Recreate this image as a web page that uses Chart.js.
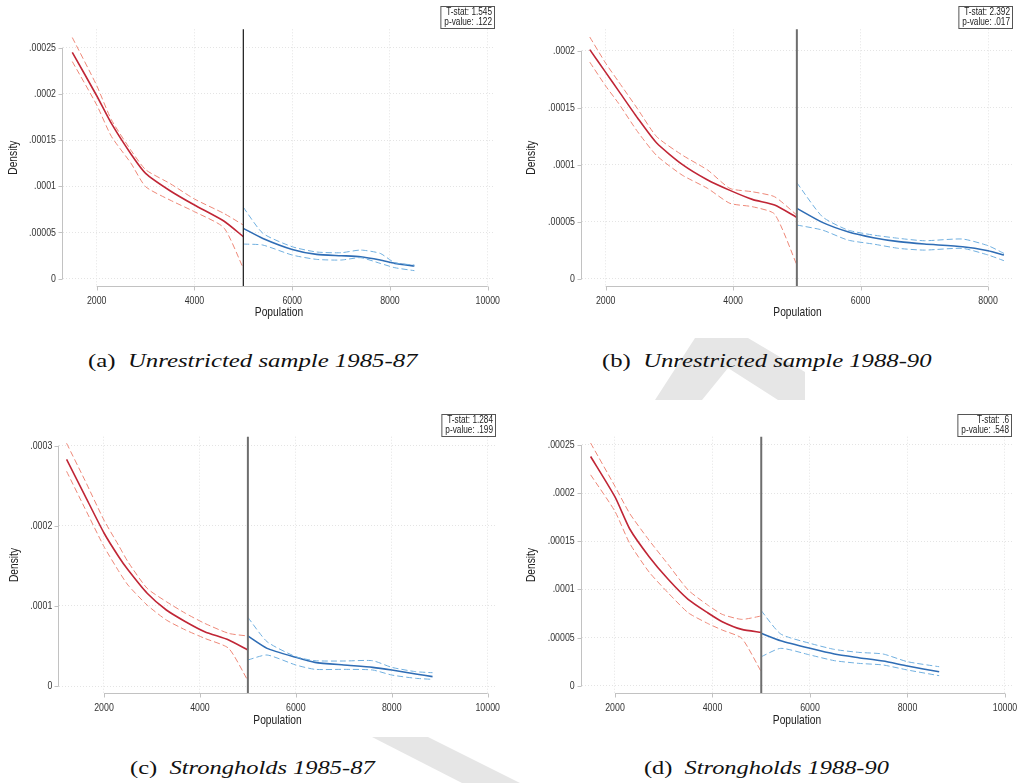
<!DOCTYPE html>
<html>
<head>
<meta charset="utf-8">
<script src="https://cdn.jsdelivr.net/npm/chart.js"></script>
<style>
  body { margin: 0; background: #fff; width: 1019px; height: 783px; overflow: hidden; position: relative; }
  .panel { position: absolute; }
  .cap { position: absolute; font-family: "Liberation Serif", serif; font-size: 19px; line-height: 19px; white-space: nowrap; color: #111; transform-origin: 0 0; }
  .cap i { font-style: italic; }
  #wm { position: absolute; left: 0; top: 0; }
</style>
</head>
<body>
<svg id="wm" width="1019" height="783">
  <polygon points="695,338 748,338 805,372 805,400 778,400 728,368 702,400 655,400" fill="#e6e6e6"/>
  <polygon points="372,737 428,737 520,783 462,783" fill="#e6e6e6"/>
</svg>
<div class="panel" style="left:0;top:0"><canvas id="cA" width="505" height="330"></canvas></div>
<div class="panel" style="left:515px;top:0"><canvas id="cB" width="504" height="330"></canvas></div>
<div class="panel" style="left:0;top:400px"><canvas id="cC" width="505" height="340"></canvas></div>
<div class="panel" style="left:515px;top:400px"><canvas id="cD" width="504" height="340"></canvas></div>
<div class="cap" id="capA">(a)&nbsp; <i>Unrestricted sample 1985-87</i></div>
<div class="cap" id="capB">(b)&nbsp; <i>Unrestricted sample 1988-90</i></div>
<div class="cap" id="capC">(c)&nbsp; <i>Strongholds 1985-87</i></div>
<div class="cap" id="capD">(d)&nbsp; <i>Strongholds 1988-90</i></div>
<script>
// --- data ---
const cutoff = 5000;
const xTicksFull = [2000, 4000, 6000, 8000, 10000];
const xTicksShort = [2000, 4000, 6000, 8000];
const yTicks25 = [0, 0.00005, 0.0001, 0.00015, 0.0002, 0.00025];
const yLabels25 = ['0', '.00005', '.0001', '.00015', '.0002', '.00025'];
const yTicks20 = [0, 0.00005, 0.0001, 0.00015, 0.0002];
const yLabels20 = ['0', '.00005', '.0001', '.00015', '.0002'];
const yTicks30 = [0, 0.0001, 0.0002, 0.0003];
const yLabels30 = ['0', '.0001', '.0002', '.0003'];
const tStats = ['1.545', '2.392', '1.284', '.6'];
const pValues = ['.122', '.017', '.199', '.548'];

// (a) unrestricted 1985-87
const aRedX = [1500, 2000, 2300, 2700, 3000, 3500, 4000, 4600, 5000];
const aRedMid = [0.000245, 0.000198, 0.000168, 0.000135, 0.000114, 0.0000952, 0.0000797, 0.0000624, 0.0000455];
const aRedHi = [0.000261, 0.000209, 0.000172, 0.000139, 0.000118, 0.000103, 0.0000862, 0.0000707, 0.0000581];
const aRedLo = [0.000235, 0.000188, 0.000154, 0.000125, 0.0000996, 0.0000851, 0.0000725, 0.0000552, 0.0000112];
const aBlueX = [5000, 5400, 6000, 6500, 7000, 7400, 7800, 8100, 8500];
const aBlueMid = [0.0000545, 0.0000436, 0.0000317, 0.0000263, 0.0000249, 0.0000238, 0.0000202, 0.0000166, 0.0000137];
const aBlueHi = [0.0000772, 0.0000491, 0.0000346, 0.0000289, 0.0000281, 0.000031, 0.0000274, 0.0000173, 0.0000148];
const aBlueLo = [0.0000375, 0.0000364, 0.0000256, 0.0000209, 0.0000202, 0.0000227, 0.0000166, 0.0000119, 0.0000087];

// (b) unrestricted 1988-90
const bRedX = [1750, 2000, 2200, 2500, 2800, 3200, 3600, 3950, 4300, 4650, 5000];
const bRedMid = [0.000201, 0.000181, 0.000165, 0.000141, 0.000119, 0.0001003, 0.0000866, 0.0000775, 0.0000696, 0.0000646, 0.0000538];
const bRedHi = [0.000212, 0.000189, 0.000173, 0.000149, 0.0001246, 0.0001085, 0.0000953, 0.0000792, 0.0000763, 0.0000719, 0.0000558];
const bRedLo = [0.00019, 0.000169, 0.000154, 0.000129, 0.000108, 0.0000909, 0.0000792, 0.0000661, 0.0000632, 0.0000567, 0.000012];
const bBlueX = [5000, 5400, 5800, 6200, 6600, 7000, 7600, 8000, 8250];
const bBlueMid = [0.0000617, 0.0000494, 0.0000412, 0.000036, 0.0000325, 0.0000304, 0.0000281, 0.0000246, 0.0000208];
const bBlueHi = [0.0000842, 0.0000544, 0.0000427, 0.0000383, 0.0000354, 0.0000333, 0.0000348, 0.000029, 0.0000222];
const bBlueLo = [0.0000471, 0.0000427, 0.0000339, 0.0000304, 0.0000266, 0.0000251, 0.0000266, 0.0000208, 0.0000158];

// (c) strongholds 1985-87
const cRedX = [1220, 1600, 2000, 2300, 2500, 2900, 3300, 3700, 4100, 4600, 5000];
const cRedMid = [0.000283, 0.000238, 0.000191, 0.000162, 0.000145, 0.0001157, 0.0000949, 0.0000803, 0.0000678, 0.0000574, 0.0000449];
const cRedHi = [0.000303, 0.000257, 0.000207, 0.000176, 0.000155, 0.0001219, 0.0001053, 0.0000907, 0.0000782, 0.0000657, 0.0000624];
const cRedLo = [0.000268, 0.000222, 0.000174, 0.000144, 0.000126, 0.000101, 0.0000824, 0.0000699, 0.0000595, 0.000047, 0.0000067];
const cBlueX = [5000, 5400, 6000, 6400, 7000, 7600, 8000, 8500, 8850];
const cBlueMid = [0.0000624, 0.000047, 0.0000358, 0.0000295, 0.0000262, 0.0000233, 0.00002, 0.000015, 0.0000117];
const cBlueHi = [0.0000857, 0.0000553, 0.0000366, 0.0000316, 0.0000312, 0.0000316, 0.0000233, 0.0000179, 0.0000166];
const cBlueLo = [0.0000325, 0.0000387, 0.0000262, 0.0000208, 0.0000208, 0.00002, 0.0000137, 0.0000096, 0.0000083];

// (d) strongholds 1988-90
const dRedX = [1500, 2000, 2300, 2700, 3100, 3500, 3900, 4200, 4600, 5000];
const dRedMid = [0.000238, 0.000196, 0.000163, 0.000134, 0.00011, 0.0000897, 0.0000758, 0.0000665, 0.0000585, 0.0000554];
const dRedHi = [0.000252, 0.000207, 0.000179, 0.000151, 0.0001253, 0.0000994, 0.0000838, 0.0000741, 0.0000689, 0.0000724];
const dRedLo = [0.000219, 0.000181, 0.000148, 0.000118, 0.0000959, 0.0000758, 0.0000647, 0.0000578, 0.0000492, 0.0000145];
const dBlueX = [5000, 5400, 6000, 6500, 7000, 7500, 8000, 8650];
const dBlueMid = [0.0000544, 0.0000467, 0.0000388, 0.0000329, 0.0000291, 0.0000256, 0.0000204, 0.0000145];
const dBlueHi = [0.0000779, 0.0000537, 0.000044, 0.0000377, 0.0000346, 0.0000329, 0.0000249, 0.0000197];
const dBlueLo = [0.0000301, 0.0000388, 0.0000319, 0.000026, 0.0000232, 0.0000215, 0.0000163, 0.0000104];

// --- styling ---
const sans = '"Liberation Sans", Arial, sans-serif';
const narrowFactor = 0.8;   // Arial squeezed to about Arial Narrow width
const redSolid = '#c02636', redDash = '#ee8878';
const blueSolid = '#2f6db5', blueDash = '#71b0e0';

const pts = (xs, ys) => xs.map((x, i) => ({ x: x, y: ys[i] }));

// every fillText on the chart canvas is squeezed horizontally around its anchor
const narrowText = {
  id: 'narrowText',
  beforeInit(chart) {
    const ctx = chart.ctx;
    const orig = ctx.fillText;
    ctx.fillText = function (t, x, y, maxW) {
      this.save();
      this.translate(x, y);
      this.scale(narrowFactor, 1);
      orig.call(this, t, 0, 0);
      this.restore();
    };
  }
};

// axis lines, tick marks, cutoff line and the T-stat box, drawn through the chart's scales
const stataPlugin = {
  id: 'stata',
  afterDatasetsDraw(chart, args, o) {
    const { ctx, chartArea: a, scales: { x } } = chart;
    const px = x.getPixelForValue(o.cutoff);
    ctx.save();
    ctx.strokeStyle = o.cutColor;
    ctx.lineWidth = o.cutWidth;
    ctx.beginPath();
    ctx.moveTo(px, a.top);
    ctx.lineTo(px, a.bottom);
    ctx.stroke();
    ctx.restore();
  },
  afterDraw(chart, args, o) {
    const { ctx, chartArea: a, scales: { x, y } } = chart;
    ctx.save();
    ctx.strokeStyle = '#c2c2c2';
    ctx.lineWidth = 1;
    ctx.beginPath();
    const yl = Math.round(a.left) - 0.5;
    ctx.moveTo(yl, y.getPixelForValue(o.yTicks[0]) + 0.5);
    ctx.lineTo(yl, y.getPixelForValue(o.yTicks[o.yTicks.length - 1]));
    o.yTicks.forEach(v => {
      const p = Math.round(y.getPixelForValue(v)) + 0.5;
      ctx.moveTo(yl - 4, p); ctx.lineTo(yl, p);
    });
    const xb = Math.round(a.bottom) + 0.5;
    ctx.moveTo(x.getPixelForValue(o.xTicks[0]), xb);
    ctx.lineTo(x.getPixelForValue(o.xTicks[o.xTicks.length - 1]), xb);
    o.xTicks.forEach(v => {
      const p = Math.round(x.getPixelForValue(v)) + 0.5;
      ctx.moveTo(p, xb); ctx.lineTo(p, xb + 4);
    });
    ctx.stroke();

    // T-stat box in the upper right corner, just above the plot region
    ctx.font = '10.3px ' + sans;
    const l1 = 'T-stat: ' + o.tStat, l2 = 'p-value: ' + o.pValue;
    const w = Math.max(ctx.measureText(l1).width, ctx.measureText(l2).width) * narrowFactor + 6;
    const right = Math.round(a.right) - 0.5, bottom = Math.round(a.top) - 0.5;
    const h = 22;
    ctx.strokeStyle = '#555';
    ctx.strokeRect(right - w, bottom - h, w, h);
    ctx.fillStyle = '#222';
    ctx.textAlign = 'right';
    ctx.textBaseline = 'middle';
    ctx.fillText(l1, right - 2.5, bottom - h + 6);
    ctx.fillText(l2, right - 2.5, bottom - h + 15.5);
    ctx.restore();
  }
};

function makePanel(cfg) {
  const datasets = [
    { data: pts(cfg.redX, cfg.redHi), borderColor: redDash, borderWidth: 1, borderDash: [6, 3] },
    { data: pts(cfg.redX, cfg.redLo), borderColor: redDash, borderWidth: 1, borderDash: [6, 3] },
    { data: pts(cfg.redX, cfg.redMid), borderColor: redSolid, borderWidth: 1.6 },
    { data: pts(cfg.blueX, cfg.blueHi), borderColor: blueDash, borderWidth: 1, borderDash: [6, 3] },
    { data: pts(cfg.blueX, cfg.blueLo), borderColor: blueDash, borderWidth: 1, borderDash: [6, 3] },
    { data: pts(cfg.blueX, cfg.blueMid), borderColor: blueSolid, borderWidth: 1.6 }
  ];
  datasets.forEach(d => { d.pointRadius = 0; d.fill = false; d.tension = 0.2; });

  new Chart(document.getElementById(cfg.id), {
    type: 'line',
    data: { datasets: datasets },
    plugins: [narrowText, stataPlugin],
    options: {
      responsive: false,
      animation: false,
      layout: { padding: { left: 0, top: cfg.top, right: cfg.right, bottom: 0 } },
      plugins: {
        legend: { display: false },
        tooltip: { enabled: false },
        stata: {
          cutoff: cutoff, cutColor: cfg.cutColor, cutWidth: cfg.cutWidth,
          xTicks: cfg.xTicks, yTicks: cfg.yTicks, tStat: cfg.tStat, pValue: cfg.pValue
        }
      },
      scales: {
        x: {
          type: 'linear', min: cfg.xMin, max: cfg.xMax,
          afterBuildTicks: s => { s.ticks = cfg.xTicks.map(v => ({ value: v })); },
          afterFit: s => { s.height = cfg.xh; s.paddingLeft = 0; s.paddingRight = 0; },
          grid: { color: '#e4e4e4', drawTicks: false },
          border: { display: false, dash: [1, 2] },
          ticks: { font: { family: sans, size: 11 }, color: '#333', padding: 8, maxRotation: 0, autoSkip: false, callback: v => String(v) },
          title: { display: true, text: 'Population', font: { family: sans, size: 12.8 }, color: '#222', padding: { top: 0, bottom: cfg.xTitlePad } }
        },
        y: {
          type: 'linear', min: cfg.yMin, max: cfg.yMax,
          afterBuildTicks: s => { s.ticks = cfg.yTicks.map(v => ({ value: v })); },
          afterFit: s => { s.width = cfg.left; s.paddingTop = 0; s.paddingBottom = 0; },
          grid: { color: '#e4e4e4', drawTicks: false },
          border: { display: false, dash: [1, 2] },
          ticks: { font: { family: sans, size: 11 }, color: '#333', padding: 7, autoSkip: false, callback: (v, i) => cfg.yLabels[i] },
          title: { display: true, text: 'Density', font: { family: sans, size: 12.8 }, color: '#222', padding: { top: cfg.yTitlePad, bottom: 0 } }
        }
      }
    }
  });
}

makePanel({
  id: 'cA', left: 63, top: 29.3, right: 10, xh: 44, xTitlePad: 9.6, yTitlePad: 5.6,
  xMin: 1310, xMax: 10149, yMin: -0.0000079, yMax: 0.0002699,
  xTicks: xTicksFull, yTicks: yTicks25, yLabels: yLabels25,
  cutColor: '#2a2a2a', cutWidth: 1.3, tStat: tStats[0], pValue: pValues[0],
  redX: aRedX, redMid: aRedMid, redHi: aRedHi, redLo: aRedLo,
  blueX: aBlueX, blueMid: aBlueMid, blueHi: aBlueHi, blueLo: aBlueLo
});
makePanel({
  id: 'cB', left: 67, top: 29.3, right: 6, xh: 44, xTitlePad: 9.6, yTitlePad: 9,
  xMin: 1628, xMax: 8392, yMin: -0.0000064, yMax: 0.0002188,
  xTicks: xTicksShort, yTicks: yTicks20, yLabels: yLabels20,
  cutColor: '#6e6e6e', cutWidth: 2, tStat: tStats[1], pValue: pValues[1],
  redX: bRedX, redMid: bRedMid, redHi: bRedHi, redLo: bRedLo,
  blueX: bBlueX, blueMid: bBlueMid, blueHi: bBlueHi, blueLo: bBlueLo
});
makePanel({
  id: 'cC', left: 59.3, top: 36.7, right: 9.3, xh: 46.7, xTitlePad: 12.3, yTitlePad: 6.6,
  xMin: 1068, xMax: 10167, yMin: -0.0000091, yMax: 0.0003112,
  xTicks: xTicksFull, yTicks: yTicks30, yLabels: yLabels30,
  cutColor: '#6e6e6e', cutWidth: 2, tStat: tStats[2], pValue: pValues[2],
  redX: cRedX, redMid: cRedMid, redHi: cRedHi, redLo: cRedLo,
  blueX: cBlueX, blueMid: cBlueMid, blueHi: cBlueHi, blueLo: cBlueLo
});
makePanel({
  id: 'cD', left: 66.7, top: 36.7, right: 6.7, xh: 46.7, xTitlePad: 12.3, yTitlePad: 9,
  xMin: 1317, xMax: 10150, yMin: -0.0000079, yMax: 0.0002586,
  xTicks: xTicksFull, yTicks: yTicks25, yLabels: yLabels25,
  cutColor: '#6e6e6e', cutWidth: 2, tStat: tStats[3], pValue: pValues[3],
  redX: dRedX, redMid: dRedMid, redHi: dRedHi, redLo: dRedLo,
  blueX: dBlueX, blueMid: dBlueMid, blueHi: dBlueHi, blueLo: dBlueLo
});

// sub-captions: place and stretch to the measured width in the reference
const caps = [
  { id: 'capA', left: 88, baseline: 366.7, width: 330 },
  { id: 'capB', left: 602, baseline: 366.7, width: 330 },
  { id: 'capC', left: 130, baseline: 774, width: 245 },
  { id: 'capD', left: 644, baseline: 774, width: 245 }
];
caps.forEach(c => {
  const el = document.getElementById(c.id);
  el.style.left = c.left + 'px';
  el.style.top = (c.baseline - 15.9) + 'px';
  el.style.transform = 'scaleX(' + (c.width / el.offsetWidth) + ')';
});
</script>
</body>
</html>
